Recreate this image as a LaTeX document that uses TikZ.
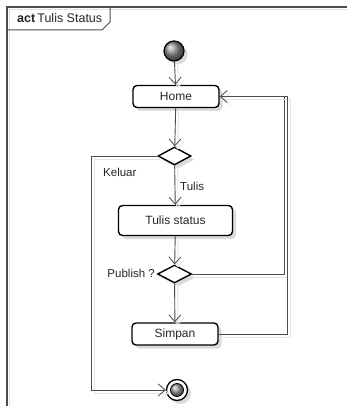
\documentclass[tikz,border=0pt]{standalone}
\usepackage{fontspec}
\setmainfont{Liberation Sans}
\usetikzlibrary{arrows.meta,shapes.geometric,shadows,calc}
\begin{document}
\begin{tikzpicture}[x=1pt,y=-1pt,
  every node/.style={font=\fontsize{12}{14}\selectfont, text=black!85},
  nshadow/.style={drop shadow={shadow xshift=3.5pt,shadow yshift=-3.5pt,fill=black!14,opacity=1}},
  actbox/.style={draw=black, line width=1.4pt, rounded corners=4pt, fill=white, nshadow, inner sep=0pt},
  decision/.style={diamond, draw=black, line width=1.4pt, fill=white, nshadow, inner sep=0pt, aspect=1.8},
  conn/.style={draw=black!70, line width=0.9pt,
     preaction={draw=black!10, line width=0.9pt, transform canvas={shift={(3pt,-3pt)}}}},
  tip/.style={-{Straight Barb[length=7pt,width=12pt,line width=0.8pt]}},
  lbl/.style={inner sep=0pt, font=\fontsize{11.5}{13}\selectfont}
]
\useasboundingbox (0,0) rectangle (347,406);
\fill[white] (0,0) rectangle (347,406);

% diagram frame with its name tab
\draw[black!12, line width=1pt] (9.5,9.5) -- (347,9.5);
\draw[black!12, line width=1pt] (9.5,9.5) -- (9.5,406);
\draw[black!70, line width=1.2pt] (7,406) -- (7,7) -- (347,7);
\draw[black!70, line width=1pt] (110,7) -- (110,22) -- (102,30) -- (7,30);
\node[anchor=west, inner sep=0pt, font=\fontsize{12.5}{14}\selectfont] (title) at (17,18.5)
  {\textbf{act}\,Tulis Status};

% start and end points
\node[circle, draw=black, line width=1.2pt, minimum size=20pt, inner sep=0pt,
  ball color=black!45, nshadow] (start) at (174,51) {};
\node[circle, draw=black, line width=1.3pt, minimum size=21pt, inner sep=0pt,
  fill=white, nshadow] (stop) at (177,390) {};
\node[circle, draw=black, line width=0.8pt, minimum size=13pt, inner sep=0pt,
  ball color=black!40] (stopin) at (stop) {};

% actions and decisions
\node[actbox, minimum width=86pt, minimum height=22pt] (home) at (176,96.5) {Home};
\node[decision, minimum width=33pt, minimum height=18pt] (d1) at (174.5,156) {};
\node[actbox, minimum width=114pt, minimum height=30pt] (tulis) at (175.5,220.5) {Tulis status};
\node[decision, minimum width=34pt, minimum height=18pt] (d2) at (174.5,274) {};
\node[actbox, minimum width=86pt, minimum height=22pt] (simpan) at (175,334) {Simpan};

% bend points of the connectors
\coordinate (lt) at (91,156);
\coordinate (lb) at (91,390);
\coordinate (r1b) at (284,274);
\coordinate (r2b) at (287,334);
\coordinate (rt) at (287,96.5);

% connectors
\draw[conn, tip] (start) -- (home);
\draw[conn, tip] (home) -- (d1);
\draw[conn, tip] (d1) -- (tulis);
\draw[conn, tip] (tulis) -- (d2);
\draw[conn, tip] (d2) -- (simpan);
\draw[conn, tip] (d1.west) -- (lt) -- (lb) -- (stop);
\draw[conn] (d2.east) -- (r1b) -- (r1b |- rt);
\draw[conn, tip] (simpan.east) -- (r2b) -- (rt) -- (home.east);

% guard labels
\node[lbl, anchor=west] (kel) at (103,172) {Keluar};
\node[lbl, anchor=west] (tl) at (180,186) {Tulis};
\node[lbl, anchor=east] (pub) at (155,273) {Publish ?};
\end{tikzpicture}
\end{document}
